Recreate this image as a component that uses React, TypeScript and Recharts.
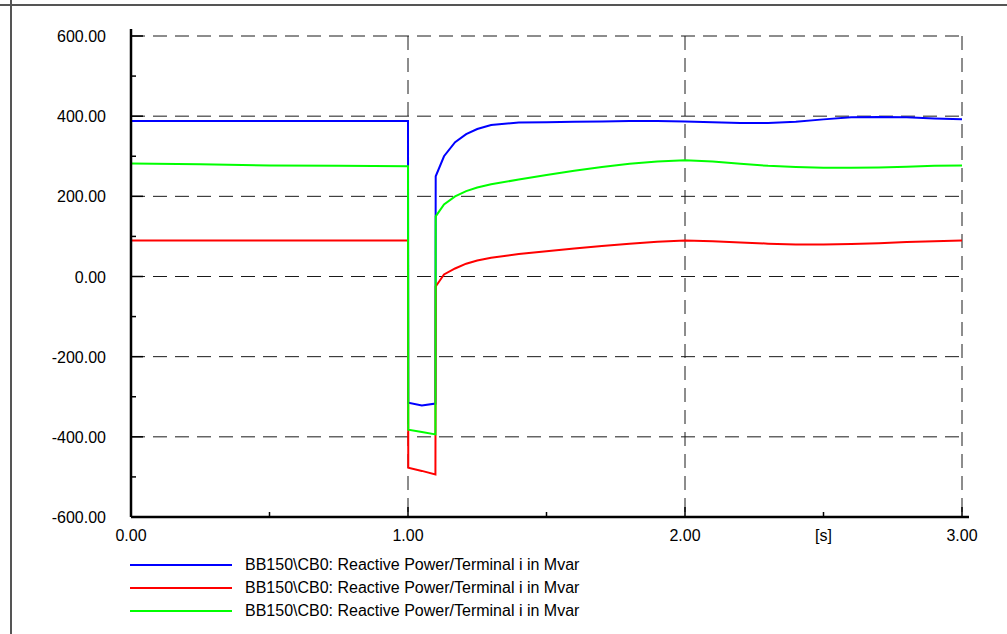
import React from "react";
import { CartesianGrid, Line, LineChart, XAxis, YAxis } from "recharts";

// time axis [s] and the three reactive power traces [Mvar]
const TIME = [
  0, 0.25, 0.5, 0.75, 1.0, 1.001, 1.05, 1.099, 1.1, 1.13, 1.17, 1.21, 1.25,
  1.3, 1.4, 1.5, 1.6, 1.7, 1.8, 1.9, 2.0, 2.1, 2.2, 2.3, 2.4, 2.5, 2.6, 2.7,
  2.8, 2.9, 3.0,
];
const BLUE_Q = [
  388, 388, 388, 388, 388, -315, -322, -317, 250, 300, 335, 355, 368, 378,
  384, 385, 386, 387, 388, 388, 387, 385, 383, 383, 386, 392, 397, 398, 397,
  394, 392,
];
const RED_Q = [
  90, 90, 90, 90, 90, -477, -485, -494, -25, 5, 20, 32, 40, 47, 56, 63, 70,
  76, 82, 87, 90, 88, 85, 82, 80, 80, 81, 83, 86, 88, 90,
];
const GREEN_Q = [
  282, 280, 277, 276, 275, -382, -388, -394, 150, 180, 200, 213, 222, 230,
  242, 253, 264, 273, 281, 287, 290, 287, 281, 276, 273, 271, 271, 272, 274,
  276, 277,
];

const SERIES = [
  { key: "blue", color: "#0000ff", values: BLUE_Q },
  { key: "red", color: "#ff0000", values: RED_Q },
  { key: "green", color: "#00ff00", values: GREEN_Q },
];
const LEGEND_LABEL = "BB150\\CB0: Reactive Power/Terminal i in Mvar";

const Y_TICKS = [-600, -500, -400, -300, -200, -100, 0, 100, 200, 300, 400, 500, 600];
const Y_GRID = [-400, -200, 0, 200, 400, 600];
const X_TICKS = [0, 0.5, 1, 1.5, 2, 2.5, 3];
const X_GRID = [1, 2, 3];
const X_LABELS: Record<string, string> = {
  "0": "0.00",
  "1": "1.00",
  "2": "2.00",
  "2.5": "[s]",
  "3": "3.00",
};

const FONT = "'Liberation Sans', Arial, sans-serif";
const Y_MARGIN = 25;

const data = TIME.map((t, i) => {
  const row: Record<string, number> = { t };
  SERIES.forEach((s) => (row[s.key] = s.values[i]));
  return row;
});

function YTick(props: any) {
  const { x, y, payload } = props;
  const v = payload.value as number;
  const ax = x + Y_MARGIN;
  const major = v % 200 === 0;
  return (
    <g>
      <line x1={ax} y1={y} x2={ax + (major ? 12 : 5)} y2={y} stroke="#000" strokeWidth={1.5} />
      {v === 600 && <line x1={ax} y1={y - 7} x2={ax} y2={y} stroke="#000" strokeWidth={2.5} />}
      {major && (
        <text x={x} y={y + 6} textAnchor="end" fontSize={16} fontFamily={FONT} fill="#000">
          {v.toFixed(2)}
        </text>
      )}
    </g>
  );
}

function XTick(props: any) {
  const { x, y, payload } = props;
  const v = payload.value as number;
  const label = X_LABELS[String(v)];
  const major = Number.isInteger(v);
  return (
    <g>
      <line x1={x} y1={y} x2={x} y2={y - (major ? 10 : 5)} stroke="#000" strokeWidth={1.5} />
      {v === 3 && <line x1={x} y1={y} x2={x + 7} y2={y} stroke="#000" strokeWidth={2.5} />}
      {label && (
        <text x={x} y={y + 24} textAnchor="middle" fontSize={16} fontFamily={FONT} fill="#000">
          {label}
        </text>
      )}
    </g>
  );
}

export default function App() {
  return (
    <div
      style={{
        position: "absolute",
        left: 0,
        top: 0,
        width: 1007,
        height: 634,
        background: "#fff",
        fontFamily: FONT,
        overflow: "hidden",
      }}
    >
      {/* page frame */}
      <div style={{ position: "absolute", left: 0, top: 4, width: 1007, height: 1.5, background: "#555" }} />
      <div style={{ position: "absolute", left: 10, top: 0, width: 1.5, height: 634, background: "#555" }} />

      <LineChart
        width={1007}
        height={634}
        data={data}
        margin={{ top: 36, right: 45, left: 0, bottom: 87 }}
      >
        <CartesianGrid
          horizontalValues={Y_GRID}
          verticalValues={X_GRID}
          stroke="#1a1a1a"
          strokeDasharray="14 8"
        />
        <XAxis
          type="number"
          dataKey="t"
          domain={[0, 3]}
          ticks={X_TICKS}
          interval={0}
          height={30}
          tickSize={0}
          tickMargin={0}
          tick={<XTick />}
          axisLine={{ stroke: "#000", strokeWidth: 2.5 }}
          tickLine={false}
        />
        <YAxis
          type="number"
          domain={[-600, 600]}
          ticks={Y_TICKS}
          interval={0}
          width={131}
          tickSize={0}
          tickMargin={Y_MARGIN}
          tick={<YTick />}
          axisLine={{ stroke: "#000", strokeWidth: 2.5 }}
          tickLine={false}
        />
        {SERIES.map((s) => (
          <Line
            key={s.key}
            type="linear"
            dataKey={s.key}
            stroke={s.color}
            strokeWidth={2}
            dot={false}
            isAnimationActive={false}
          />
        ))}
      </LineChart>

      {/* legend */}
      <div style={{ position: "absolute", left: 130, top: 553 }}>
        {SERIES.map((s) => (
          <div key={s.key} style={{ display: "flex", alignItems: "center", height: 23.3 }}>
            <div style={{ width: 102, height: 2, background: s.color }} />
            <span style={{ marginLeft: 13, fontSize: 16, color: "#000", whiteSpace: "nowrap" }}>
              {LEGEND_LABEL}
            </span>
          </div>
        ))}
      </div>
    </div>
  );
}
